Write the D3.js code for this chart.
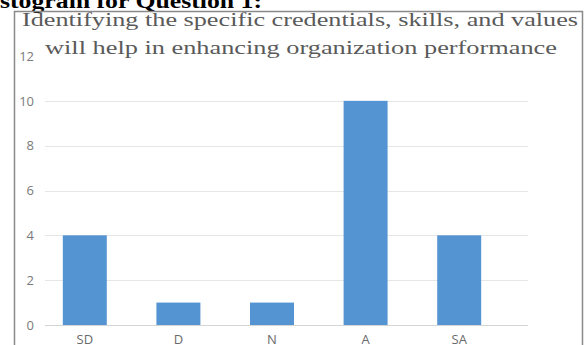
<!DOCTYPE html>
<html><head><meta charset="utf-8">
<script src="https://cdn.jsdelivr.net/npm/d3@7"></script>
<style>html,body{margin:0;padding:0;background:#fff;overflow:hidden}</style>
</head><body>
<svg id="c" width="586" height="345"></svg>
<script>
const categories = ["SD", "D", "N", "A", "SA"];
const counts = [4, 1, 1, 10, 4];
const yTicks = [0, 2, 4, 6, 8, 10, 12];
const heading = "stogram for Question 1:";
const titleLines = ["Identifying the specific credentials, skills, and values", "will help in enhancing organization performance"];

const svg = d3.select("#c");
const x = d3.scaleBand().domain(categories).range([38, 506]).paddingInner(0.53).paddingOuter(0.265);
const y = d3.scaleLinear().domain([0, 12]).range([325, 56]);

// heading (cropped at top of picture)
svg.append("text").attr("x", 0).attr("y", 8)
  .attr("font-family", "Liberation Serif, Times New Roman, serif")
  .attr("font-weight", "bold").attr("font-size", 20).attr("fill", "#000")
  .attr("textLength", 262).attr("lengthAdjust", "spacingAndGlyphs")
  .text(heading);

// chart box
svg.append("path").attr("d", "M14.5,345 V11.5 H582.5 V345")
  .attr("fill", "none").attr("stroke", "#8a8a8a").attr("stroke-width", 1.5);

// gridlines
svg.append("g").selectAll("line").data(yTicks.filter(t => t <= 10)).join("line")
  .attr("x1", 45).attr("x2", 528)
  .attr("y1", d => Math.round(y(d)) + 0.5).attr("y2", d => Math.round(y(d)) + 0.5)
  .attr("stroke", d => d === 0 ? "#d4d4d4" : "#e6e6e6").attr("stroke-width", 1);

// y axis labels
const yAxis = d3.axisLeft(y).tickValues(yTicks).tickSize(0).tickPadding(0);
const gy = svg.append("g").attr("transform", "translate(34,0)").call(yAxis);
gy.select(".domain").remove();
gy.selectAll("text").attr("font-family", "Open Sans, Liberation Sans, sans-serif")
  .attr("font-size", 13).attr("fill", "#7a7a7a");

// bars
svg.append("g").selectAll("rect").data(categories).join("rect")
  .attr("x", d => x(d)).attr("width", x.bandwidth())
  .attr("y", (d, i) => y(counts[i])).attr("height", (d, i) => y(0) - y(counts[i]))
  .attr("fill", "#5594d3");

// x axis labels
const xAxis = d3.axisBottom(x).tickSize(0).tickPadding(0);
const gx = svg.append("g").attr("transform", "translate(0,335)").call(xAxis);
gx.select(".domain").remove();
gx.selectAll("text").attr("font-family", "Open Sans, Liberation Sans, sans-serif")
  .attr("font-size", 13).attr("fill", "#6a6a6a");

// title
const tt = svg.append("g").attr("font-family", "Liberation Serif, Times New Roman, serif")
  .attr("font-size", 18).attr("fill", "#5a5a5a");
tt.append("text").attr("x", 22).attr("y", 26).attr("textLength", 556)
  .attr("lengthAdjust", "spacingAndGlyphs").text(titleLines[0]);
tt.append("text").attr("x", 45).attr("y", 54).attr("textLength", 512)
  .attr("lengthAdjust", "spacingAndGlyphs").text(titleLines[1]);
</script>
</body></html>
